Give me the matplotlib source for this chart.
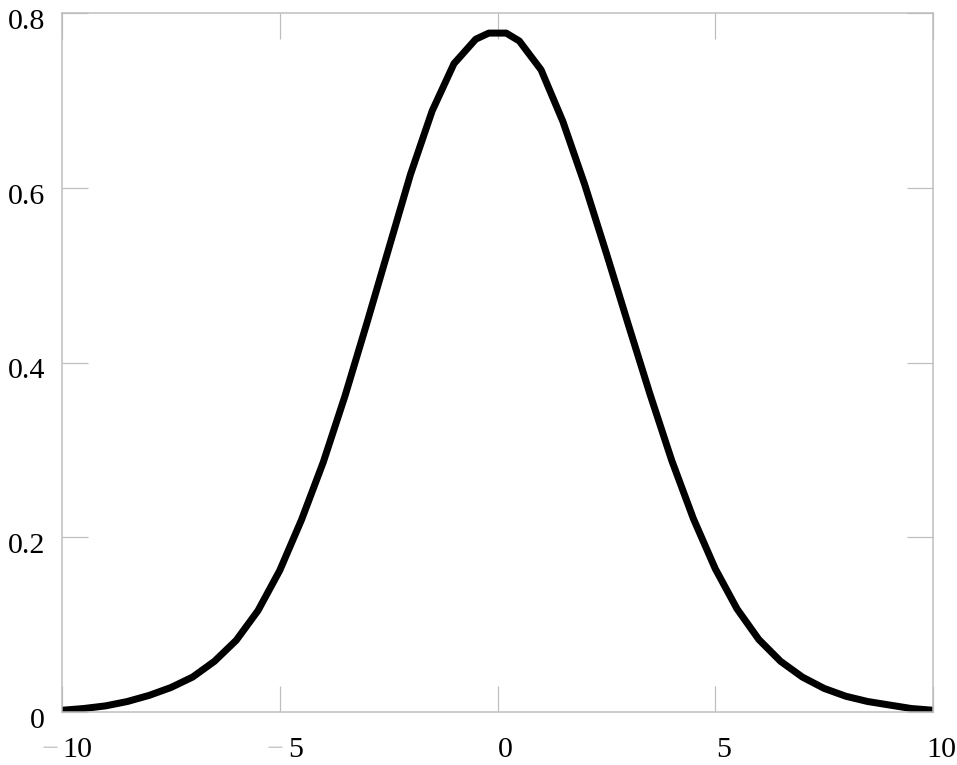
import matplotlib
matplotlib.use("Agg")
import matplotlib.pyplot as plt

# data
x_vals = [-10, -9.5, -9, -8.5, -8, -7.5, -7, -6.5, -6, -5.5, -5, -4.5, -4, -3.5, -3,
          -2.5, -2, -1.5, -1, -0.5, -0.2, 0.2, 0.5, 1, 1.5, 2, 2.5, 3, 3.5, 4, 4.5,
          5, 5.5, 6, 6.5, 7, 7.5, 8, 8.5, 9, 9.5, 10]
y_vals = [0.002, 0.004, 0.007, 0.012, 0.019, 0.028, 0.040, 0.058, 0.082, 0.116, 0.162,
          0.220, 0.286, 0.362, 0.445, 0.530, 0.615, 0.688, 0.742, 0.770, 0.777, 0.777,
          0.768, 0.735, 0.676, 0.604, 0.525, 0.444, 0.364, 0.288, 0.221, 0.164, 0.118,
          0.083, 0.058, 0.040, 0.027, 0.018, 0.012, 0.008, 0.004, 0.002]

x_ticks = [-10, -5, 0, 5, 10]
x_tick_labels = ["10", "5", "0", "5", "10"]
x_tick_negative = [True, True, False, False, False]
y_ticks = [0, 0.2, 0.4, 0.6, 0.8]
y_tick_labels = ["0", "0.2", "0.4", "0.6", "0.8"]

W, H, DPI = 957, 765, 72
fig = plt.figure(figsize=(W / DPI, H / DPI), dpi=DPI)
ax = fig.add_axes([62 / W, (H - 712) / H, (933 - 62) / W, (712 - 13) / H])

ax.plot(x_vals, y_vals, color="black", lw=7, solid_capstyle="round",
        solid_joinstyle="round")
ax.set_xlim(-10, 10)
ax.set_ylim(0, 0.8)

gray = "#bdbdbd"
for s in ax.spines.values():
    s.set_color(gray)
    s.set_linewidth(1.5)

ax.set_xticks(x_ticks)
ax.set_yticks(y_ticks)
ax.set_xticklabels([])
ax.set_yticklabels([])
ax.tick_params(direction="in", length=26, width=1.2, color=gray,
               top=True, right=True, bottom=True, left=True)

font = dict(family="Liberation Serif", size=30, color="black")
for xt, lab, neg in zip(x_ticks, x_tick_labels, x_tick_negative):
    dx = 15.5 if neg else 8
    ax.annotate(lab, xy=(xt, 0), xycoords=("data", "axes fraction"),
                xytext=(dx, -45), textcoords="offset points",
                ha="center", va="baseline", annotation_clip=False, **font)
    if neg:
        wdig = 15 * len(lab)
        ax.annotate("\u2212", xy=(xt, 0), xycoords=("data", "axes fraction"),
                    xytext=(dx - wdig / 2 - 4, -45), textcoords="offset points",
                    ha="right", va="baseline", annotation_clip=False,
                    family="Liberation Serif", size=30, color="#c8c8c8")

for yt, lab in zip(y_ticks, y_tick_labels):
    ax.annotate(lab, xy=(0, yt), xycoords=("axes fraction", "data"),
                xytext=(-17, -16), textcoords="offset points",
                ha="right", va="baseline", annotation_clip=False, **font)

fig.savefig("out.png", dpi=DPI, facecolor="white")
